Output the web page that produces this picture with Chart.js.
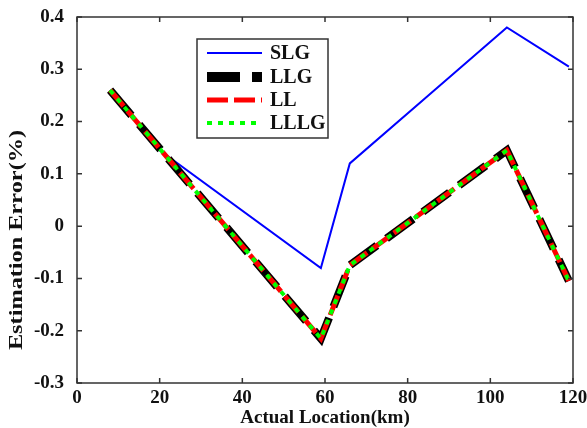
<!DOCTYPE html>
<html>
<head>
<meta charset="utf-8">
<script src="https://cdn.jsdelivr.net/npm/chart.js@4"></script>
<style>
  html, body { margin: 0; padding: 0; background: #fff; }
  #wrap { width: 587px; height: 428px; }
</style>
</head>
<body>
<div id="wrap"><canvas id="grafico" width="587" height="428"></canvas></div>
<script>
// valores (km, erro em %)
const slgKm   = [8, 20, 59, 66, 85, 104, 119];
const slgErr  = [0.26, 0.145, -0.08, 0.12, 0.25, 0.38, 0.305];

const llgKm   = [8, 59, 66, 104, 119];
const llgErr  = [0.26, -0.215, -0.075, 0.145, -0.105];

const llKm    = [8, 59, 66, 104, 119];
const llErr   = [0.26, -0.215, -0.075, 0.145, -0.105];

const lllgKm  = [8, 59, 66, 104, 119];
const lllgErr = [0.26, -0.215, -0.075, 0.145, -0.105];

const seriesNames = ["SLG", "LLG", "LL", "LLLG"];

const xTicks = [0, 20, 40, 60, 80, 100, 120];
const yTicks = [-0.3, -0.2, -0.1, 0, 0.1, 0.2, 0.3, 0.4];
const yTickLabels = ["-0.3", "-0.2", "-0.1", "0", "0.1", "0.2", "0.3", "0.4"];

const xTitle = "Actual Location(km)";
const yTitle = "Estimation Error(%)";

function pts(xs, ys) {
    return xs.map((x, i) => ({ x: x, y: ys[i] }));
}

const fonte = '"Liberation Serif", "Times New Roman", serif';

// caixa, ticks para dentro, títulos e legenda
const moldura = {
    id: "moldura",
    afterDraw(chart) {
        const ctx = chart.ctx;
        const a = chart.chartArea;
        const sx = chart.scales.x, sy = chart.scales.y;
        ctx.save();
        ctx.strokeStyle = "#333";
        ctx.lineWidth = 1.5;
        ctx.strokeRect(a.left, a.top, a.right - a.left, a.bottom - a.top);
        ctx.beginPath();
        xTicks.forEach(v => {
            const px = sx.getPixelForValue(v);
            ctx.moveTo(px, a.bottom); ctx.lineTo(px, a.bottom - 5);
            ctx.moveTo(px, a.top); ctx.lineTo(px, a.top + 5);
        });
        yTicks.forEach(v => {
            const py = sy.getPixelForValue(v);
            ctx.moveTo(a.left, py); ctx.lineTo(a.left + 5, py);
            ctx.moveTo(a.right, py); ctx.lineTo(a.right - 5, py);
        });
        ctx.stroke();

        // títulos
        ctx.fillStyle = "#111";
        ctx.font = "bold 19px " + fonte;
        ctx.textAlign = "center";
        ctx.textBaseline = "middle";
        ctx.fillText(xTitle, (a.left + a.right) / 2, 418);

        ctx.save();
        ctx.translate(17, 240);
        ctx.rotate(-Math.PI / 2);
        ctx.scale(1.35, 1);
        ctx.font = "bold 18px " + fonte;
        ctx.fillText(yTitle, 0, 0);
        ctx.restore();

        // legenda
        const bx = 197, by = 39, bw = 131, bh = 99;
        ctx.fillStyle = "#fff";
        ctx.fillRect(bx, by, bw, bh);
        ctx.strokeStyle = "#333";
        ctx.lineWidth = 1.5;
        ctx.strokeRect(bx, by, bw, bh);
        const linhasY = [53, 77, 100, 123];
        chart.data.datasets.forEach((ds, i) => {
            const y = linhasY[i];
            ctx.save();
            ctx.strokeStyle = ds.borderColor;
            ctx.lineWidth = i === 1 ? 10 : ds.borderWidth;
            ctx.setLineDash(ds.borderDash || []);
            ctx.lineCap = "butt";
            ctx.beginPath();
            ctx.moveTo(207, y);
            ctx.lineTo(262, y);
            ctx.stroke();
            ctx.restore();
            ctx.fillStyle = "#111";
            ctx.font = "bold 20px " + fonte;
            ctx.textAlign = "left";
            ctx.textBaseline = "middle";
            ctx.fillText(seriesNames[i], 270, y + 1);
        });
        ctx.restore();
    }
};

new Chart(document.getElementById("grafico"), {
    type: "scatter",
    data: {
        datasets: [
            {
                label: seriesNames[0],
                data: pts(slgKm, slgErr),
                showLine: true,
                borderColor: "#0000ff",
                borderWidth: 2,
                pointRadius: 0,
                order: 4
            },
            {
                label: seriesNames[1],
                data: pts(llgKm, llgErr),
                showLine: true,
                borderColor: "#000000",
                borderWidth: 8,
                borderDash: [33, 12],
                pointRadius: 0,
                order: 3
            },
            {
                label: seriesNames[2],
                data: pts(llKm, llErr),
                showLine: true,
                borderColor: "#ff0000",
                borderWidth: 5,
                borderDash: [21, 6],
                pointRadius: 0,
                order: 2
            },
            {
                label: seriesNames[3],
                data: pts(lllgKm, lllgErr),
                showLine: true,
                borderColor: "#00ff00",
                borderWidth: 4,
                borderDash: [5, 6],
                pointRadius: 0,
                order: 1
            }
        ]
    },
    options: {
        responsive: false,
        animation: false,
        devicePixelRatio: 1,
        layout: { padding: { top: 17, right: 14, left: 0, bottom: 0 } },
        plugins: {
            legend: { display: false },
            tooltip: { enabled: false }
        },
        scales: {
            x: {
                type: "linear",
                min: 0,
                max: 120,
                afterBuildTicks: s => { s.ticks = xTicks.map(v => ({ value: v })); },
                afterFit: s => { s.height = 45; s.paddingLeft = 0; s.paddingRight = 0; },
                ticks: {
                    color: "#111",
                    font: { family: fonte, size: 19, weight: "bold" },
                    padding: -4,
                    maxRotation: 0,
                    callback: v => String(v)
                },
                grid: { display: false },
                border: { display: false }
            },
            y: {
                min: -0.3,
                max: 0.4,
                afterBuildTicks: s => { s.ticks = yTicks.map(v => ({ value: v })); },
                afterFit: s => { s.width = 77; s.paddingTop = 0; s.paddingBottom = 0; },
                ticks: {
                    color: "#111",
                    font: { family: fonte, size: 19, weight: "bold" },
                    padding: 5,
                    callback: (v, i) => yTickLabels[i]
                },
                grid: { display: false },
                border: { display: false }
            }
        }
    },
    plugins: [moldura]
});
</script>
</body>
</html>
